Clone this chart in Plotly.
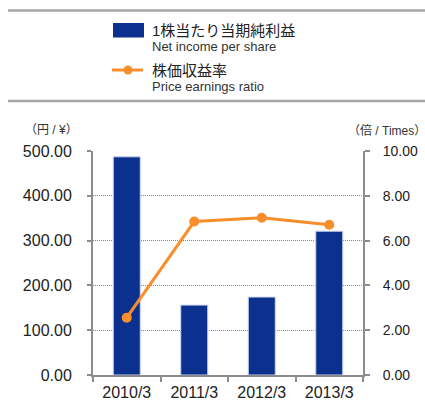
import plotly.graph_objects as go

categories = ["2010/3", "2011/3", "2012/3", "2013/3"]
eps = [487, 156, 174, 321]
per = [2.56, 6.85, 7.02, 6.71]
left_ticks = [0, 100, 200, 300, 400, 500]
right_ticks = [0, 2, 4, 6, 8, 10]

FONT = "Liberation Sans, Arial, Noto Sans CJK JP, sans-serif"
NAVY = "#0B308D"
ORANGE = "#F98E2C"
AXIS = "#8c8c8c"

W, H = 425, 401
ML, MR, MT, MB = 93, 62, 151, 26
PW, PH = W - ML - MR, H - MT - MB

fig = go.Figure()
fig.add_trace(go.Bar(
    x=categories, y=eps, width=0.4,
    marker=dict(color=NAVY, line=dict(color="#c9d3ee", width=1)),
    yaxis="y", showlegend=False,
))
fig.add_trace(go.Scatter(
    x=categories, y=per, mode="lines+markers",
    line=dict(color=ORANGE, width=3),
    marker=dict(color=ORANGE, size=10),
    yaxis="y2", showlegend=False,
))

fig.update_layout(
    width=W, height=H,
    margin=dict(l=ML, r=MR, t=MT, b=MB, autoexpand=False),
    paper_bgcolor="white", plot_bgcolor="white",
    font=dict(family=FONT, color="#222"),
    xaxis=dict(
        showline=True, linecolor=AXIS, linewidth=2,
        ticks="outside", ticklen=5, tickcolor=AXIS, tickwidth=2,
        tickson="boundaries", tickfont=dict(size=16, color="#222"),
        showgrid=False, fixedrange=True, automargin=False,
        ticklabelstandoff=2,
    ),
    yaxis=dict(
        range=[0, 500], tickvals=left_ticks,
        ticktext=[f"{v:.2f}" for v in left_ticks],
        showline=True, linecolor=AXIS, linewidth=2,
        ticks="outside", ticklen=4, tickcolor=AXIS, tickwidth=2,
        ticklabelstandoff=12, automargin=False,
        tickfont=dict(size=16, color="#222"),
        showgrid=True, gridcolor="#8a8a8a", griddash="1px,1px", gridwidth=1,
        zeroline=False,
    ),
    yaxis2=dict(
        range=[0, 10], tickvals=right_ticks,
        ticktext=[f"{v:.2f}" for v in right_ticks],
        overlaying="y", side="right",
        showline=True, linecolor=AXIS, linewidth=2,
        ticks="outside", ticklen=5, tickcolor=AXIS, tickwidth=2,
        ticklabelstandoff=10, automargin=False,
        tickfont=dict(size=14, color="#222"),
        showgrid=False, zeroline=False,
    ),
    bargap=0.6,
)


def py(ypx):
    return (H - MB - ypx) / PH


def px(xpx):
    return (xpx - ML) / PW


fig.add_shape(type="line", xref="paper", yref="paper",
              x0=px(8), x1=px(426), y0=py(10.5), y1=py(10.5),
              line=dict(color="#a6a6a6", width=2.5))
fig.add_shape(type="line", xref="paper", yref="paper",
              x0=px(8), x1=px(426), y0=py(101), y1=py(101),
              line=dict(color="#a6a6a6", width=2.5))
fig.add_shape(type="rect", xref="paper", yref="paper",
              x0=px(113), x1=px(144), y0=py(37.5), y1=py(23),
              fillcolor=NAVY, line=dict(width=0))
fig.add_shape(type="line", xref="paper", yref="paper",
              x0=px(112), x1=px(143), y0=py(70), y1=py(70),
              line=dict(color=ORANGE, width=3))
fig.add_shape(type="circle", xref="paper", yref="paper",
              x0=px(123.5), x1=px(132.5), y0=py(74.5), y1=py(65.5),
              fillcolor=ORANGE, line=dict(width=0))


def ann(text, x, y, size, color="#222", xanchor="left"):
    fig.add_annotation(text=text, xref="paper", yref="paper",
                       x=px(x), y=py(y), xanchor=xanchor, yanchor="middle",
                       showarrow=False, font=dict(size=size, color=color, family=FONT))


ann("1株当たり当期純利益", 150, 31, 15)
ann("Net income per share", 150, 46, 13, "#333")
ann("株価収益率", 150, 70, 15)
ann("Price earnings ratio", 150, 87, 13, "#333")
ann("（円 / ¥）", 23, 130, 12, "#333")
ann("（倍 / Times）", 428, 130, 12, "#333", xanchor="right")

fig.write_html("out.html", config={"displayModeBar": False},
               post_script="document.body.style.margin='0';document.body.style.overflow='hidden';")
